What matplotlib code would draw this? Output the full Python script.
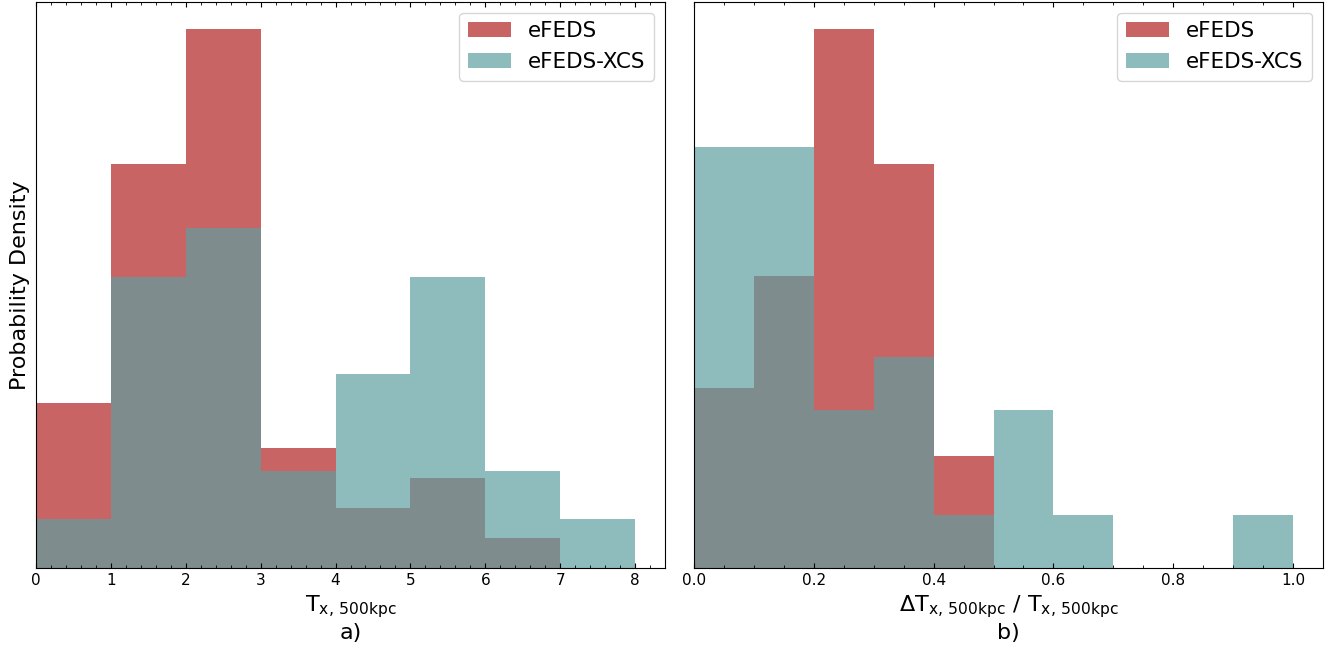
import matplotlib.pyplot as plt
import numpy as np

# counts per bin
t_edges = np.arange(0, 9, 1.0)
t_efeds = [11, 27, 36, 8, 4, 6, 2, 0]
t_xcs = [1, 6, 7, 2, 4, 6, 2, 1]

e_edges = np.round(np.arange(0, 1.01, 0.1), 2)
e_efeds = [8, 13, 24, 18, 5, 0, 0, 0, 0, 0]
e_xcs = [8, 8, 3, 4, 1, 3, 1, 0, 0, 1]

red = '#c86464'
teal = 'cadetblue'

fig = plt.figure(figsize=(13.41, 6.55), dpi=100)
ax1 = fig.add_axes([36/1341, 1-568/655, 629/1341, 566/655])
ax2 = fig.add_axes([694/1341, 1-568/655, 629/1341, 566/655])

def draw(ax, edges, a, b):
    centres = (edges[:-1] + edges[1:]) / 2
    ax.hist(centres, bins=edges, weights=a, density=True, color=red, label='eFEDS')
    ax.hist(centres, bins=edges, weights=b, density=True, color=teal, alpha=0.7,
            label='eFEDS-XCS')
    ax.set_xlim(0, edges[-1] * 1.05)
    ax.set_yticks([])
    ax.minorticks_on()
    ax.tick_params(axis='x', which='both', direction='in', top=True, labelsize=11)
    ax.tick_params(axis='y', which='both', left=False, right=False)
    ax.legend(loc='upper right', fontsize=15.5)

draw(ax1, t_edges, t_efeds, t_xcs)
draw(ax2, e_edges, e_efeds, e_xcs)

ax1.set_xlabel(r'T$_{\rm x,\,500kpc}$' + '\na)', fontsize=16)
ax2.set_xlabel(r'$\Delta$T$_{\rm x,\,500kpc}$ / T$_{\rm x,\,500kpc}$' + '\nb)', fontsize=16)
ax1.set_ylabel('Probability Density', fontsize=16)

fig.savefig('out.png', dpi=100)
